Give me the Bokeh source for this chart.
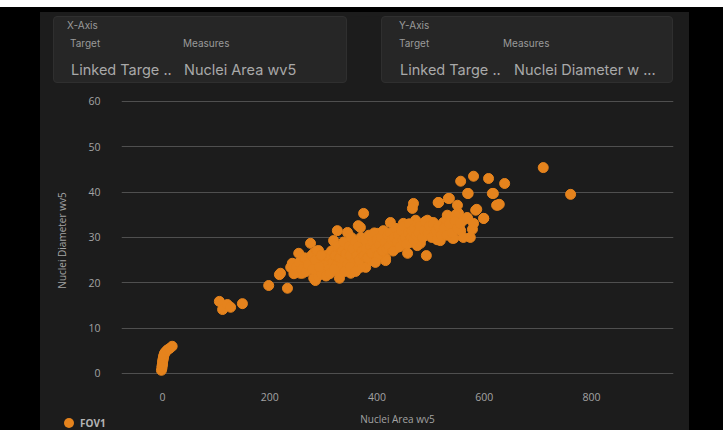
from bokeh.plotting import figure
from bokeh.models import Range1d, ColumnDataSource, FixedTicker, Div
from bokeh.layouts import column
from bokeh.embed import file_html
from bokeh.resources import INLINE

# ---------------- data ----------------
x_label = "Nuclei Area wv5"
y_label = "Nuclei Diameter wv5"
series_name = "FOV1"
x_ticks = [0, 200, 400, 600, 800]
y_ticks = [0, 10, 20, 30, 40, 50, 60]

# small nuclei near the origin
area_small = [-2, -1, -1, 0, 0, 0.5, 1, 1.5, 2, 3, 4, 6, 9, 13, 18]
diam_small = [0.7, 1.2, 1.6, 2.0, 2.4, 2.8, 3.1, 3.4, 3.8, 4.2, 4.5, 4.8, 5.2, 5.5, 6.0]

# isolated group around 100-200
area_mid = [106, 112, 121, 127, 149, 198]
diam_mid = [15.9, 14.1, 15.2, 14.6, 15.4, 19.4]

# main cloud
area_main = [
    233, 218, 239, 254, 276, 291, 257, 282, 270, 308, 326, 345, 323, 319, 338, 356,
    375, 369, 382, 393, 379, 416, 407, 425, 444, 462, 468, 466, 472, 494, 505, 492,
    481, 457, 438, 515, 533, 550, 556, 580, 569, 584, 531, 550, 561, 531, 556, 574,
    518, 543, 561, 412, 393, 356, 345, 332, 313, 295, 282,
    220, 242, 285, 261, 295, 365, 319, 336, 326, 351, 369, 388, 416, 401, 313,
    514, 535, 570, 617, 623, 586, 599, 552, 569, 580, 449, 500, 481, 543, 431, 462,
    541, 401, 388, 608, 638, 615, 625, 628, 599, 578, 546, 568, 487, 524, 475,
    300, 305, 310, 315, 318, 322, 325, 328, 330, 333, 335, 338, 340, 342, 345, 348,
    350, 352, 355, 357, 360, 362, 365, 367, 370, 372, 375, 378, 380, 382, 385, 388,
    390, 392, 395, 398, 400, 402, 405, 408, 410, 412, 415, 418, 420, 422, 425, 428,
    430, 432, 435, 438, 440, 443, 445, 448, 450, 453, 455, 458, 460, 463, 465, 468,
    470, 473, 476, 478, 480, 485, 488, 490, 495, 498, 502, 505, 510, 512, 515, 520,
    525, 530, 535, 540, 545, 550, 555,
    290, 297, 305, 312, 320, 330, 340, 350, 360, 397,
    245, 250, 255, 260, 265, 268, 272, 278, 280, 285, 288, 292, 296,
    710, 761,
]
diam_main = [
    18.8, 21.8, 23.4, 26.5, 28.7, 27.1, 22.1, 21.0, 24.9, 25.6, 31.5, 31.1, 27.8, 22.7, 24.3, 24.9,
    35.3, 32.2, 28.7, 25.6, 23.4, 25.4, 30.9, 33.3, 30.0, 32.2, 37.5, 36.4, 33.8, 33.8, 33.3, 26.0,
    28.7, 26.5, 27.8, 37.7, 38.6, 37.1, 42.4, 43.5, 39.7, 36.0, 34.9, 35.3, 33.8, 31.5, 31.5, 30.0,
    29.3, 29.8, 30.0, 29.3, 30.0, 29.3, 27.8, 25.6, 22.7, 24.9, 26.5,
    22.1, 24.3, 20.5, 22.1, 22.7, 32.6, 29.3, 27.1, 22.7, 22.1, 23.4, 24.9, 24.9, 28.2, 24.3,
    37.7, 38.6, 39.7, 39.7, 37.1, 36.2, 34.2, 35.3, 34.2, 33.1, 33.1, 33.3, 30.9, 32.2, 28.7, 28.9,
    29.8, 30.9, 30.0, 43.0, 41.9, 39.7, 37.1, 37.3, 34.2, 31.8, 34.9, 34.4, 33.1, 33.3, 28.2,
    24.0, 26.0, 23.0, 27.0, 24.5, 26.0, 24.0, 28.0, 25.5, 23.5, 27.0, 29.0, 25.0, 26.5, 24.0, 28.0,
    26.0, 30.0, 27.5, 24.5, 29.0, 26.0, 28.0, 25.0, 30.0, 27.0, 26.0, 29.5, 27.5, 25.5, 30.5, 28.0,
    26.5, 29.0, 31.0, 27.5, 29.5, 26.0, 28.5, 30.0, 27.0, 31.5, 29.0, 27.5, 30.5, 28.0, 31.0, 29.5,
    27.0, 30.0, 32.0, 29.0, 30.5, 28.0, 31.5, 29.5, 32.5, 30.0, 28.5, 31.0, 33.0, 30.0, 31.5, 29.5,
    32.0, 30.5, 33.0, 31.0, 32.5, 30.0, 31.5, 33.5, 31.0, 32.5, 30.0, 33.0, 31.5, 29.5, 32.5, 30.5,
    32.0, 30.5, 33.0, 31.0, 33.5, 32.0, 33.0,
    21.5, 22.0, 21.5, 22.0, 23.0, 21.0, 22.5, 23.5, 22.5, 24.5,
    22.0, 23.5, 24.5, 23.0, 25.5, 22.5, 24.0, 26.0, 23.0, 25.0, 27.0, 23.5, 26.0,
    45.4, 39.5,
]

area = area_small + area_mid + area_main
diam = diam_small + diam_mid + diam_main

# ---------------- styling ----------------
W, H = 723, 430
TOP_H = 81                      # layout height of the selector strip (HTML)
PANEL_L, PANEL_R = 40, 689      # dark panel horizontal extent
FIG_H = H - TOP_H
FL, FR, FT, FB = 121, 673, 95, 385   # frame edges in page pixels
ORANGE = "#e5831d"
PANEL = "#1c1c1c"
CARD = "#262626"
TXT = "#a3a3a3"
FONT = "Open Sans"


def span(t, x, y, fs, col, lh, extra=""):
    return (f'<span style="position:absolute;left:{x}px;top:{y - lh / 2}px;'
            f'font-size:{fs}px;line-height:{lh}px;color:{col};white-space:nowrap;{extra}">{t}</span>')


# background of the whole page (drawn behind the transparent figure), cards, legend
parts = [
    f'<div style="position:relative;width:{W}px;height:{TOP_H}px;overflow:visible;'
    f'font-family:Inter,\'Noto Sans\',sans-serif">',
    f'<div style="position:absolute;left:0;top:0;width:{W}px;height:{H}px;background:#000"></div>',
    f'<div style="position:absolute;left:0;top:0;width:{W}px;height:7px;background:#fff"></div>',
    f'<div style="position:absolute;left:{PANEL_L}px;top:12px;width:{PANEL_R - PANEL_L}px;'
    f'height:{H - 12}px;background:{PANEL}"></div>',
]
for l, r in [(53, 347), (381, 673)]:
    parts.append(f'<div style="position:absolute;left:{l}px;top:16px;width:{r - l}px;height:67px;'
                 f'background:{CARD};border:1px solid #2f2f2f;border-radius:4px;'
                 f'box-sizing:border-box"></div>')
card_texts = [
    ("X-Axis", 67, 25, 10, "#9a9a9a", 12),
    ("Target", 70, 43, 10, "#9a9a9a", 12),
    ("Measures", 183, 43, 10, "#9a9a9a", 12),
    ("Linked Targe ..", 71, 70, 14.5, "#a9a9a9", 18),
    ("Nuclei Area wv5", 184, 70, 14.5, "#a9a9a9", 18),
    ("Y-Axis", 399, 25, 10, "#9a9a9a", 12),
    ("Target", 399, 43, 10, "#9a9a9a", 12),
    ("Measures", 503, 43, 10, "#9a9a9a", 12),
    ("Linked Targe ..", 400, 70, 14.5, "#a9a9a9", 18),
    ("Nuclei Diameter w ...", 514, 70, 14.5, "#a9a9a9", 18),
]
for t, x, y, fs, col, lh in card_texts:
    parts.append(span(t, x, y, fs, col, lh))
# legend (marker + series name) in the bottom-left corner
parts.append(f'<span style="position:absolute;left:64px;top:418px;width:10px;height:10px;'
             f'border-radius:50%;background:{ORANGE}"></span>')
parts.append(span(series_name, 80, 423, 10, "#b4b4b4", 12,
                  "font-weight:bold;font-family:'Open Sans',sans-serif"))
parts.append("</div>")
top = Div(text="".join(parts), width=W, height=TOP_H, margin=0,
          styles={"overflow": "visible"})

# ---- the scatter figure (transparent border so the panel shows through) ----
p = figure(width=W, height=FIG_H, output_backend="svg", toolbar_location=None,
           x_range=Range1d(-76.5, 952.9), y_range=Range1d(-2.65, 61.3),
           min_border_left=FL, min_border_right=W - FR,
           min_border_top=FT - TOP_H, min_border_bottom=H - FB, margin=0)
p.border_fill_alpha = 0
p.background_fill_color = PANEL
p.outline_line_color = None

p.xgrid.grid_line_color = None
p.ygrid.grid_line_color = "#4f4f4f"
p.ygrid.grid_line_width = 1
p.ygrid.ticker = FixedTicker(ticks=y_ticks)

for ax in (p.xaxis[0], p.yaxis[0]):
    ax.axis_line_color = None
    ax.major_tick_line_color = None
    ax.minor_tick_line_color = None
    ax.major_tick_in = 0
    ax.major_tick_out = 0
    ax.major_label_text_color = TXT
    ax.major_label_text_font = FONT
    ax.major_label_text_font_size = "10.5px"
    ax.axis_label_text_color = TXT
    ax.axis_label_text_font = FONT
    ax.axis_label_text_font_size = "10px"
    ax.axis_label_text_font_style = "normal"

p.xaxis.ticker = FixedTicker(ticks=x_ticks)
p.yaxis.ticker = FixedTicker(ticks=y_ticks)
p.xaxis.axis_label = x_label
p.yaxis.axis_label = y_label
p.xaxis.major_label_standoff = 7
p.xaxis.axis_label_standoff = 8
p.yaxis.major_label_standoff = 21
p.yaxis.axis_label_standoff = 16

src = ColumnDataSource(dict(area=area, diam=diam))
p.scatter("area", "diam", source=src, size=10, fill_color=ORANGE,
          line_color=ORANGE, fill_alpha=1, line_alpha=1, legend_label=series_name)
p.legend.visible = False   # the legend is drawn in the page's bottom-left corner

root = column(top, p, spacing=0, width=W, height=H,
              styles={"background-color": "#000000"})

open("out.html", "w").write(file_html(root, INLINE))
